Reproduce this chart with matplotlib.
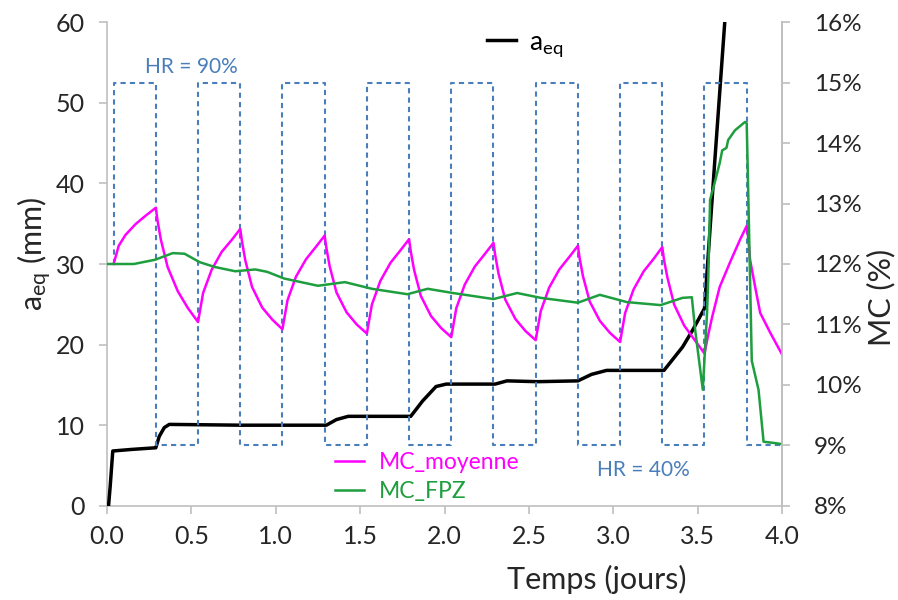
import matplotlib.pyplot as plt
from matplotlib.ticker import FuncFormatter

plt.rcParams['font.family'] = ['Lato', 'DejaVu Sans']
plt.rcParams['mathtext.default'] = 'regular'

# a_eq (mm), left axis
t_aeq = [0.01, 0.02, 0.035, 0.15, 0.29, 0.31, 0.34, 0.37, 0.8, 1.30, 1.36, 1.43, 1.80,
         1.87, 1.95, 2.01, 2.30, 2.37, 2.55, 2.79, 2.87, 2.96, 3.30, 3.41, 3.47, 3.54,
         3.555, 3.60, 3.66]
aeq = [0.0, 2.5, 6.8, 7.0, 7.2, 8.6, 9.7, 10.1, 10.0, 10.0, 10.7, 11.1, 11.1,
       13.0, 14.8, 15.1, 15.1, 15.5, 15.4, 15.5, 16.3, 16.8, 16.8, 19.7, 21.8, 24.5,
       29.0, 42.5, 60.0]

# MC_moyenne (%), right axis
t_moy = [0.04, 0.07, 0.11, 0.17, 0.23, 0.29,
         0.30, 0.32, 0.36, 0.42, 0.48, 0.54,
         0.57, 0.62, 0.68, 0.74, 0.79,
         0.80, 0.82, 0.86, 0.92, 0.98, 1.04,
         1.07, 1.12, 1.18, 1.24, 1.29,
         1.30, 1.32, 1.36, 1.42, 1.48, 1.54,
         1.57, 1.62, 1.68, 1.74, 1.79,
         1.80, 1.82, 1.86, 1.92, 1.98, 2.04,
         2.07, 2.12, 2.18, 2.24, 2.29,
         2.30, 2.32, 2.36, 2.42, 2.48, 2.54,
         2.57, 2.62, 2.68, 2.74, 2.79,
         2.80, 2.82, 2.86, 2.92, 2.98, 3.04,
         3.07, 3.12, 3.18, 3.24, 3.29,
         3.30, 3.32, 3.36, 3.42, 3.48, 3.54,
         3.56, 3.585, 3.63, 3.69, 3.75, 3.79,
         3.80, 3.81, 3.84, 3.87, 3.93, 4.00]
mc_moy = [12.00, 12.30, 12.48, 12.66, 12.80, 12.93,
          12.72, 12.40, 11.95, 11.55, 11.27, 11.04,
          11.52, 11.90, 12.20, 12.40, 12.58,
          12.38, 12.06, 11.62, 11.28, 11.08, 10.92,
          11.40, 11.79, 12.08, 12.29, 12.47,
          12.27, 11.96, 11.53, 11.20, 11.00, 10.85,
          11.33, 11.72, 12.02, 12.23, 12.41,
          12.21, 11.90, 11.47, 11.14, 10.94, 10.79,
          11.27, 11.66, 11.96, 12.17, 12.35,
          12.15, 11.84, 11.41, 11.09, 10.89, 10.74,
          11.22, 11.61, 11.91, 12.12, 12.30,
          12.10, 11.80, 11.38, 11.06, 10.86, 10.71,
          11.19, 11.58, 11.88, 12.09, 12.28,
          12.07, 11.78, 11.33, 10.98, 10.75, 10.52,
          10.80, 11.12, 11.62, 12.02, 12.40, 12.63,
          12.40, 12.07, 11.62, 11.19, 10.86, 10.50]

# MC_FPZ (%), right axis
t_fpz = [0.00, 0.16, 0.285, 0.39, 0.46, 0.55, 0.64, 0.76, 0.88, 0.95, 1.05, 1.25,
         1.41, 1.57, 1.78, 1.90, 2.05, 2.29, 2.43, 2.57, 2.79, 2.92, 3.08, 3.28,
         3.41, 3.465, 3.485, 3.53, 3.555, 3.562, 3.573, 3.60, 3.63, 3.645, 3.67,
         3.68, 3.72, 3.78, 3.79, 3.80, 3.82, 3.86, 3.89, 3.95, 4.00]
mc_fpz = [12.00, 12.00, 12.07, 12.18, 12.17, 12.03, 11.95, 11.88, 11.91, 11.87, 11.76, 11.64,
          11.70, 11.59, 11.50, 11.59, 11.52, 11.42, 11.52, 11.44, 11.36, 11.49, 11.37, 11.32,
          11.44, 11.45, 10.90, 9.92, 11.19, 11.74, 13.06, 13.34, 13.67, 13.88, 13.92,
          14.05, 14.21, 14.35, 14.33, 13.06, 10.40, 9.92, 9.06, 9.04, 9.02]

# HR cycles drawn on the MC axis (15% = HR 90%, 9% = HR 40%)
hr_t = [0.04, 0.04, 0.29, 0.54, 0.79, 1.04, 1.29, 1.54, 1.79, 2.04, 2.29, 2.54,
        2.79, 3.04, 3.29, 3.54, 3.79, 4.00]
hr_level = [12, 15, 9, 15, 9, 15, 9, 15, 9, 15, 9, 15, 9, 15, 9, 15, 9, 9]

grey = '#BFBFBF'
blue = '#4A7EBB'
green = '#1E9E3E'
magenta = '#FF00FF'
txt = '#262626'

fig = plt.figure(figsize=(8.98, 6), dpi=100)
ax = fig.add_axes([0.119, 0.157, 0.752, 0.806])
ax2 = ax.twinx()

ax.plot(t_aeq, aeq, color='black', lw=2.5, label='a$_{eq}$', zorder=3)
ax2.step(hr_t, hr_level, where='post', color=blue, lw=1.5, ls=(0, (2.5, 2)))
ax2.plot(t_moy, mc_moy, color=magenta, lw=1.8, label='MC_moyenne')
ax2.plot(t_fpz, mc_fpz, color=green, lw=1.8, label='MC_FPZ')

ax.set_xlim(0, 4.0)
ax.set_ylim(0, 60)
ax2.set_ylim(8, 16)
ax.set_xticks([0.0, 0.5, 1.0, 1.5, 2.0, 2.5, 3.0, 3.5, 4.0])
ax.xaxis.set_major_formatter(FuncFormatter(lambda v, p: f'{v:.1f}'))
ax.set_yticks(range(0, 61, 10))
ax2.set_yticks(range(8, 17))
ax2.yaxis.set_major_formatter(FuncFormatter(lambda v, p: f'{v:.0f}%'))

for a in (ax, ax2):
    a.spines['top'].set_visible(False)
    for s in ('left', 'right', 'bottom'):
        a.spines[s].set_color(grey)
        a.spines[s].set_linewidth(1.2)
    a.tick_params(axis='both', direction='out', length=6, width=1.2, color=grey,
                  labelsize=18, labelcolor=txt)
ax2.spines['left'].set_visible(False)
ax2.spines['bottom'].set_visible(False)
ax.tick_params(axis='x', pad=8)
ax.tick_params(axis='y', pad=10)
ax2.tick_params(axis='y', pad=17, labelsize=17.5)

ax.set_xlabel('Temps (jours)', fontsize=22, color=txt)
ax.xaxis.set_label_coords(0.726, -0.122)
ax.set_ylabel('a$_{eq}$ (mm)', fontsize=22, color=txt)
ax.yaxis.set_label_coords(-0.079, 0.52)
ax2.set_ylabel('MC (%)', fontsize=22, color=txt)
ax2.yaxis.set_label_coords(1.126, 0.43)

ax.text(0.50, 54.4, 'HR = 90%', fontsize=15, color=blue, ha='center', va='center')
ax.text(3.18, 4.5, 'HR = 40%', fontsize=15, color=blue, ha='center', va='center')

ax.legend(loc='center left', bbox_to_anchor=(487 / 898, 1 - 44 / 600),
          bbox_transform=fig.transFigure, frameon=False, fontsize=19,
          borderpad=0, borderaxespad=0, handlelength=1.1, handletextpad=0.5)
ax2.legend(loc='center left', bbox_to_anchor=(335 / 898, 1 - 477 / 600),
           bbox_transform=fig.transFigure, frameon=False, fontsize=16.5,
           borderpad=0, borderaxespad=0, handlelength=1.25, handletextpad=0.65,
           labelspacing=0.35, labelcolor='linecolor')

plt.savefig('out.png', dpi=100)
plt.close(fig)
